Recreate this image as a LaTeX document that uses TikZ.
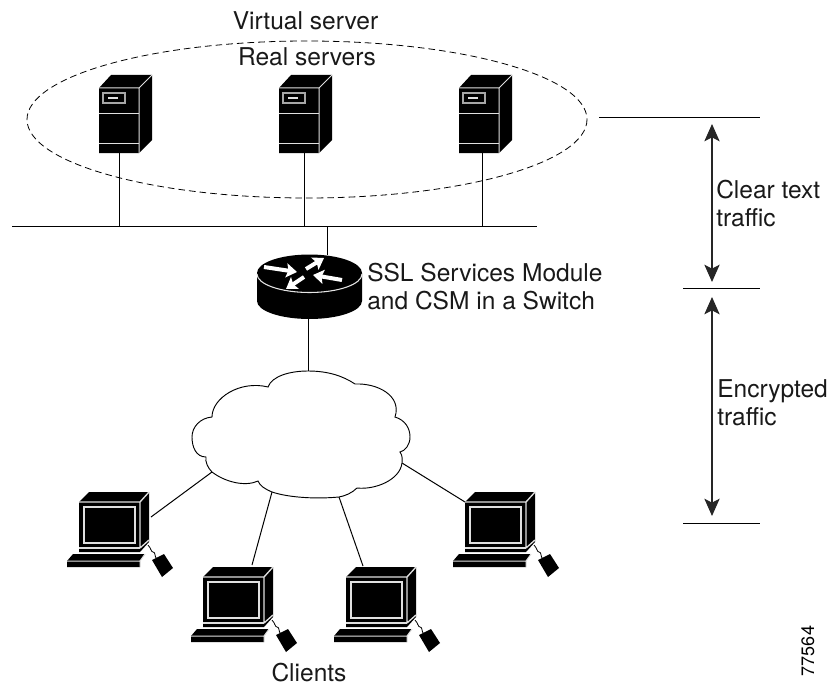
\documentclass[tikz,border=0pt]{standalone}
\usepackage{fontspec}
\setmainfont{TeX Gyre Heros}
\usetikzlibrary{arrows.meta}
\tikzset{
  x=0.75pt,y=-0.75pt,
  wire/.style={draw=black,line width=0.75pt},
  rule/.style={draw=black,line width=0.75pt},
  span/.style={draw=black!85,line width=1pt,{Stealth[length=13pt,width=11.5pt,inset=3pt]}-{Stealth[length=13pt,width=11.5pt,inset=3pt]}},
  label/.style={inner sep=0pt,font=\fontsize{18.4pt}{21pt}\selectfont,text=black!90},
  hi/.style={draw=black!12,line width=0.75pt},
  routerarrow/.style={draw=white,line width=3pt,-{Stealth[length=8pt,width=10.5pt,inset=1.5pt]}},
  pics/serverbox/.style={code={
    \fill[black] (0,0) -- (12,-13) -- (53,-13) -- (53,52) -- (40,65) -- (0,65) -- cycle;
    \draw[hi] (0,0) -- (40,0) -- (40,65) (40,0) -- (53,-13);
    \draw[hi] (0,25) -- (40,25) (0,55) -- (40,55);
    \draw[hi,draw=black!35,line width=1pt] (4,5) rectangle (26,15);
    \draw[hi,line width=1pt] (9,10) -- (19,10);
    \coordinate (-base) at (20,65);
  }},
  pics/clientpc/.style={code={
    \fill[black] (0,0) -- (10,-10) -- (70,-10) -- (70,40) -- (61,50) -- (0,50) -- cycle;
    \draw[hi,line width=1pt] (0,0) -- (61,0) -- (61,46) (61,0) -- (70,-10) (61,46) -- (70,38);
    \draw[hi,line width=1pt] (5,5) rectangle (56,41);
    \draw[hi,line width=1pt] (0,46) -- (61,46);
    \fill[black] (-6,52) -- (66,52) -- (61,59) -- (61,65) -- (-12,65) -- (-12,59) -- cycle;
    \draw[hi] (-12,59) -- (61,59) -- (66,52) (61,59) -- (61,65);
    \fill[black] (73,58) -- (85,52) -- (94,66) -- (83,75) -- cycle;
    \draw[black,line width=0.6pt] (69,43) .. controls (72,46) and (72,50) .. (74,50) .. controls (77,50) and (75,55) .. (78,57);
  }}
}
\begin{document}
\begin{tikzpicture}
\useasboundingbox (0,0) rectangle (828,685);
% texts
\node[label,anchor=base] (virt) at (305.5,30) {Virtual server};
\node[label,anchor=base] (real) at (307,65.5) {Real servers};
\node[label,anchor=base west,align=left] (ssl1) at (367,281) {SSL Services Module};
\node[label,anchor=base west] (ssl2) at (367,309) {and CSM in a Switch};
\node[label,anchor=base west] (clr1) at (716,198) {Clear text};
\node[label,anchor=base west] (clr2) at (716,226) {traffic};
\node[label,anchor=base west] (enc1) at (717,397) {Encrypted};
\node[label,anchor=base west] (enc2) at (717,425) {traffic};
\node[label,anchor=base] (cli) at (309,681) {Clients};
\node[inner sep=0pt,rotate=90,anchor=base,font=\fontsize{13.5pt}{15pt}\selectfont] (num) at (814,651) {77564};
% virtual server ellipse
\draw[black,line width=0.6pt,dash pattern=on 5pt off 3pt] (307,119.5) ellipse [x radius=280,y radius=78.5];
% servers
\pic (s1) at (99,88) {serverbox};
\pic (s2) at (279,88) {serverbox};
\pic (s3) at (459,88) {serverbox};
% LAN
\coordinate (lanL) at (12,226);
\coordinate (lanR) at (537,226);
\draw[wire] (lanL) -- (lanR);
\coordinate (t1) at (119.5,226);
\coordinate (t2) at (304.5,226);
\coordinate (t3) at (482,226);
\draw[wire] (s1-base -| t1) -- (t1);
\draw[wire] (s2-base -| t2) -- (t2);
\draw[wire] (s3-base -| t3) -- (t3);
% router
\coordinate (rtop) at (327,255);
\coordinate (rbot) at (308,319);
\coordinate (lan4) at (327,226);
\draw[wire] (lan4) -- (rtop);
\fill[black] (257,273) arc[start angle=180,end angle=360,x radius=52.5,y radius=18.5] -- (362,301) arc[start angle=0,end angle=180,x radius=52.5,y radius=18] -- cycle;
\draw[draw=black!10,line width=0.8pt] (257,274) arc[start angle=180,end angle=0,x radius=52.5,y radius=18.5];
\draw[routerarrow] (264,267) -- (297,272);
\draw[routerarrow] (306,269) -- (324,258);
\draw[routerarrow] (342,280) -- (313,275);
\draw[routerarrow] (304,277) -- (286,289);
% cloud
\coordinate (ctop) at (308,371);
\coordinate (c1) at (212,472);
\coordinate (c2) at (272,492);
\coordinate (c3) at (339,497);
\coordinate (c4) at (402,463);
\draw[wire] (rbot) -- (ctop);
\draw[black,line width=0.7pt]
 (ctop) .. controls (328,371) and (343,376) .. (355,384)
 .. controls (378,383) and (402,396) .. (395,417)
 .. controls (405,420) and (410,428) .. (410,437)
 .. controls (410,445) and (405,451) .. (400,452)
 .. controls (403,456) and (402,460) .. (402,463)
 .. controls (400,480) and (375,490) .. (357,488)
 .. controls (352,493) and (345,496) .. (339,497)
 .. controls (318,499) and (290,498) .. (272,492)
 .. controls (265,489) and (260,486) .. (258,481)
 .. controls (245,487) and (225,482) .. (212,472)
 .. controls (208,468) and (205,462) .. (206,457)
 .. controls (196,457) and (192,447) .. (192,437)
 .. controls (192,427) and (200,418) .. (212,417)
 .. controls (212,398) and (240,380) .. (268,387)
 .. controls (272,376) and (290,371) .. (ctop);
% clients
\pic (p1) at (79,502) {clientpc};
\pic (p2) at (203,577) {clientpc};
\pic (p3) at (346,577) {clientpc};
\pic (p4) at (465,502) {clientpc};
\coordinate (e1) at (151,517);
\coordinate (e2) at (252,565);
\coordinate (e3) at (363,566);
\coordinate (e4) at (465,502);
\draw[wire] (c1) -- (e1);
\draw[wire] (c2) -- (e2);
\draw[wire] (c3) -- (e3);
\draw[wire] (c4) -- (e4);
% right rules and spans
\coordinate (r1a) at (599,117); \coordinate (r1b) at (760,117);
\coordinate (r2a) at (683,288); \coordinate (r2b) at (760,288);
\coordinate (r3a) at (683,523); \coordinate (r3b) at (760,523);
\draw[rule] (r1a) -- (r1b);
\draw[rule] (r2a) -- (r2b);
\draw[rule] (r3a) -- (r3b);
\coordinate (a1) at (712,124); \coordinate (a2) at (712,282);
\coordinate (a3) at (712,297); \coordinate (a4) at (712,516);
\draw[span] (a1) -- (a2);
\draw[span] (a3) -- (a4);
\end{tikzpicture}
\end{document}
